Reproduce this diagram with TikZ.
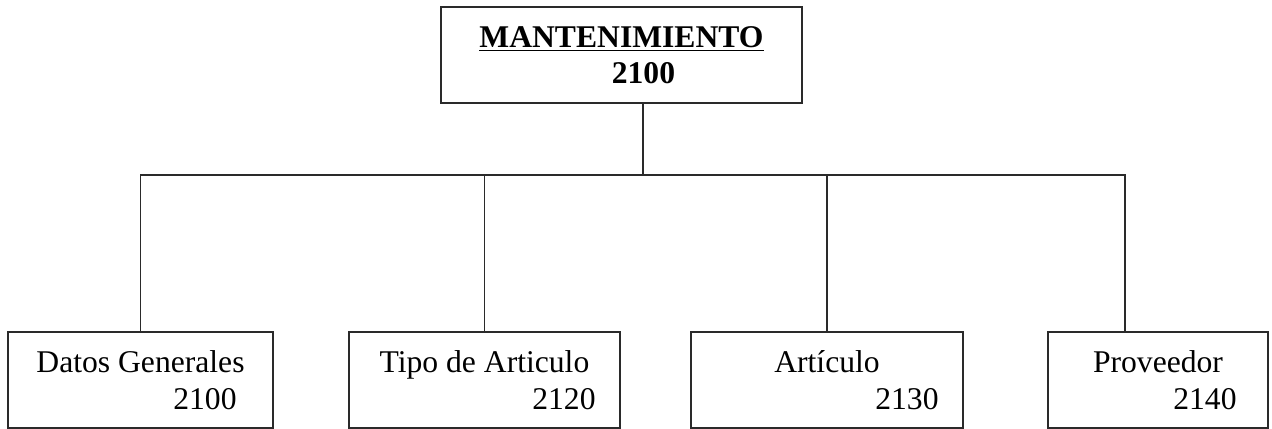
\documentclass[tikz,border=0pt]{standalone}
\usepackage{fontspec}
\setmainfont{Liberation Serif}
\usepackage{xcolor}
\usetikzlibrary{positioning}
\definecolor{boxline}{HTML}{2A2A2A}

\begin{document}
\begin{tikzpicture}[
  x=0.02cm, y=-0.02cm,
  line width=0.8pt,
  headbox/.style={rectangle, draw=boxline, minimum width=7.22cm, minimum height=1.92cm, align=center, inner sep=0pt, font=\fontsize{18}{20.5}\selectfont\bfseries},
  leafbox/.style={rectangle, draw=boxline, minimum height=1.92cm, align=center, inner sep=0pt, font=\fontsize{18}{21}\selectfont},
  link/.style={draw=boxline, line width=0.8pt}
]
  \useasboundingbox (0,0) rectangle (1272,429);
  \node[headbox] (head) at (621.5,55) {\underline{MANTENIMIENTO}\\\hspace*{0.88cm}2100};
  \node[leafbox, minimum width=5.3cm] (datos) at (140.5,380) {Datos Generales\\\hspace*{2.58cm}2100};
  \node[leafbox, minimum width=5.42cm] (tipo) at (484.5,380) {Tipo de Articulo\\\hspace*{3.18cm}2120};
  \node[leafbox, minimum width=5.44cm] (artic) at (827,380) {Artículo\\\hspace*{3.2cm}2130};
  \node[leafbox, minimum width=4.4cm] (prov) at (1158,380) {Proveedor\\\hspace*{1.88cm}2140};
  \coordinate (hub) at (643,175);
  \coordinate (busend) at (1125,175);
  \draw[link] (hub |- head.south) -- (hub);
  \draw[link] (datos.north) |- (busend) -- (busend |- prov.north);
  \draw[link] (tipo.north) -- (tipo.north |- hub);
  \draw[link] (artic.north) -- (artic.north |- hub);
\end{tikzpicture}
\end{document}
